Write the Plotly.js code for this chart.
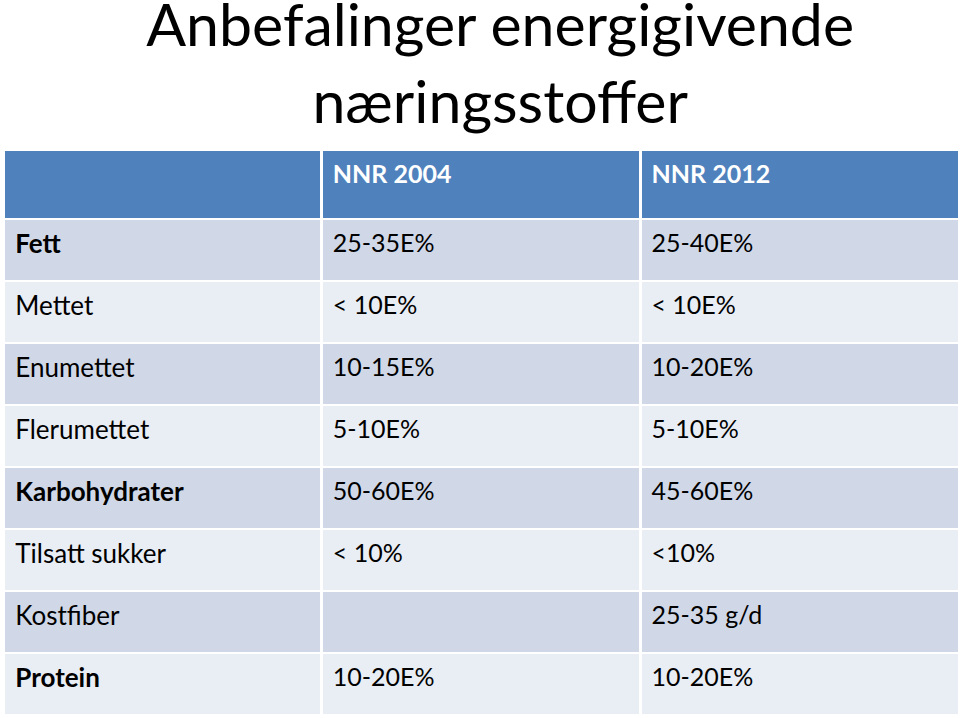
<!DOCTYPE html>
<html>
<head>
<meta charset="utf-8">
<script src="https://cdn.plot.ly/plotly-3.0.1.min.js"></script>
<style>html,body{margin:0;padding:0;background:#fff;}#chart{width:960px;height:718px;}</style>
</head>
<body>
<div id="chart"></div>
<script>
const titleText = "Anbefalinger energigivende<br>næringsstoffer";
const headers = ["", "NNR 2004", "NNR 2012"];
const rowLabels = ["Fett", "Mettet", "Enumettet", "Flerumettet", "Karbohydrater", "Tilsatt sukker", "Kostfiber", "Protein"];
const boldRows = ["Fett", "Karbohydrater", "Protein"];
const nnr2004 = ["25-35E%", "< 10E%", "10-15E%", "5-10E%", "50-60E%", "< 10%", "", "10-20E%"];
const nnr2012 = ["25-40E%", "< 10E%", "10-20E%", "5-10E%", "45-60E%", "<10%", "25-35 g/d", "10-20E%"];

const dark = "#D0D8E8", light = "#E9EDF4";
const rowColors = rowLabels.map((_, i) => i % 2 === 0 ? dark : light);
const esc = s => s.replace(/</g, "&lt;");
const indent = "\u2009";
const wrap = s => "<span>" + (s ? indent : "") + esc(s) + "</span>";
const labelCells = rowLabels.map(l => boldRows.includes(l) ? "<b>" + indent + l + "</b>" : wrap(l));

const trace = {
  type: "table",
  domain: {x: [4/960, 959/960], y: [0, 1 - 150/718]},
  columnwidth: [318, 319, 319],
  header: {
    values: headers.map(h => h ? "<b>" + indent + h + "</b>" : ""),
    align: "left",
    height: 69,
    fill: {color: "#4F81BD"},
    line: {color: "#ffffff", width: 2.5},
    font: {family: "Lato, 'Open Sans', sans-serif", size: 25, color: "#ffffff"}
  },
  cells: {
    values: [labelCells, nnr2004.map(wrap), nnr2012.map(wrap)],
    align: "left",
    height: 62,
    fill: {color: [rowColors, rowColors, rowColors]},
    line: {color: "#ffffff", width: 2.5},
    font: {family: "Lato, 'Open Sans', sans-serif", size: [26, 25, 25], color: "#000000"}
  }
};

const layout = {
  width: 960, height: 718,
  margin: {l: 0, r: 0, t: 0, b: 0},
  paper_bgcolor: "#ffffff",
  title: {
    text: titleText,
    x: 0.521, xanchor: "center",
    y: 1 - 46/718, yanchor: "bottom",
    font: {family: "Lato, 'Open Sans', sans-serif", size: 59, color: "#000000"}
  }
};

Plotly.newPlot("chart", [trace], layout, {displayModeBar: false, staticPlot: true});
</script>
</body>
</html>
